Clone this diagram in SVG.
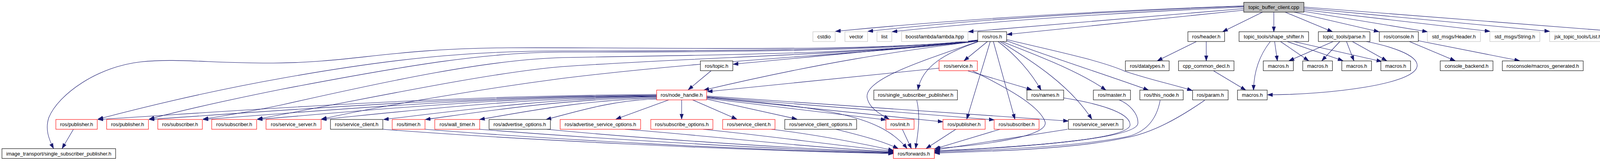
<svg xmlns="http://www.w3.org/2000/svg" width="4308" height="411" viewBox="0 0 4308 411">
<style>
.node rect{fill:#fff;stroke:#000;stroke-width:1.1}
.red rect{stroke:#ff0000}
.grey rect{stroke:#bfbfbf}
.root rect{fill:#bfbfbf}
.node text{font-family:"Liberation Sans",Arial,sans-serif;font-size:13px;text-anchor:middle;fill:#000}
#edges path{fill:none;stroke:#191970;stroke-width:1.1;marker-end:url(#arr)}
</style>
<defs>
<marker id="arr" markerUnits="userSpaceOnUse" markerWidth="14" markerHeight="10" refX="13" refY="5" orient="auto">
<path d="M0,0.5 L13,5 L0,9.5 z" fill="#191970" stroke="#191970" stroke-width="1"/>
</marker>
</defs>
<rect width="4308" height="411" fill="#fff"/>
<g id="edges">
<path d="M3184,15 Q2600,35 2139,80"/>
<path d="M3184,16 Q2600,38 2222,80"/>
<path d="M3184,18 Q2650,42 2284,81"/>
<path d="M3184,22 L2479,81"/>
<path d="M3184,26 L2578,88"/>
<path d="M3232,31 L3130,81"/>
<path d="M3261,31 L3261,81"/>
<path d="M3290,31 L3411,81"/>
<path d="M3313,31 L3530,81"/>
<path d="M3338,29 L3654,81"/>
<path d="M3338,25 L3814,80"/>
<path d="M3338,21 L3967,80"/>
<path d="M3338,18 L4137,80"/>
<path d="M2503,103 C2200,135 1700,120 1300,122 C1000,124 900,160 700,161 C550,162 450,148 360,158 C250,170 150,240 125,300 C115,330 125,355 137,379"/>
<path d="M2503,103 C2250,130 1800,130 1440,130 C1200,130 1000,150 720,200 C550,230 400,265 251,304"/>
<path d="M2503,104 C2250,132 1800,133 1440,133 C1250,133 1050,165 720,228 C600,252 480,278 382,304"/>
<path d="M2503,104 C2200,140 1800,140 1440,147 C1250,152 1000,205 720,268 C640,285 580,295 520,304"/>
<path d="M2503,105 C2200,140 1800,145 1440,170 C1250,185 900,260 659,304"/>
<path d="M2503,105 C2200,140 1850,150 1440,200 C1250,225 1000,265 823,304"/>
<path d="M2503,102 C2350,120 2150,138 1877,164"/>
<path d="M2503,105 C2300,130 2100,160 1802,230"/>
<path d="M2528,106 L2468,155"/>
<path d="M2503,107 C2420,135 2360,170 2350,229"/>
<path d="M2503,106 C2380,150 2210,200 2220,250 C2225,275 2250,290 2276,304"/>
<path d="M2535,106 L2475,304"/>
<path d="M2543,106 L2598,304"/>
<path d="M2555,106 C2600,140 2640,185 2665,230"/>
<path d="M2560,106 C2650,160 2740,220 2795,304"/>
<path d="M2565,106 C2650,140 2760,180 2831,230"/>
<path d="M2577,104 C2700,150 2830,190 2940,230"/>
<path d="M2577,101 C2700,130 2820,155 2880,182 C2950,205 3000,215 3052,231"/>
<path d="M2404,174 L1811,234"/>
<path d="M2478,181 L2641,229"/>
<path d="M2490,181 C2580,225 2660,270 2675,310 C2690,350 2500,372 2394,379"/>
<path d="M1820,181 L1762,229"/>
<path d="M1681,241 C1109,244 608,283 251,305"/>
<path d="M1681,243 C1161,246 707,283 382,305"/>
<path d="M1681,244 C1217,247 810,284 520,305"/>
<path d="M1681,245 C1272,248 915,284 659,305"/>
<path d="M1681,246 C1338,249 1038,284 823,305"/>
<path d="M1681,247 C1401,250 1157,285 982,305"/>
<path d="M1681,249 C1444,252 1237,285 1089,305"/>
<path d="M1681,251 C1500,254 1341,286 1228,305"/>
<path d="M1681,253 C1568,255 1469,287 1398,305"/>
<path d="M1712,255 L1577,304"/>
<path d="M1745,255 L1745,304"/>
<path d="M1773,255 L1886,304"/>
<path d="M1809,253 L2040,304"/>
<path d="M1809,251 L2268,306"/>
<path d="M1809,249 L2414,311"/>
<path d="M1809,247 L2545,306"/>
<path d="M1809,245 L2735,309"/>
<path d="M1809,248 C2100,275 2250,290 2322,379"/>
<path d="M980,330 C1300,355 1900,385 2287,392"/>
<path d="M1088,330 C1400,355 1900,383 2287,391"/>
<path d="M1227,330 C1500,352 1950,380 2287,390"/>
<path d="M1400,330 C1600,350 2000,378 2287,389"/>
<path d="M1600,330 C1800,345 2050,375 2287,388"/>
<path d="M1800,330 C1950,345 2150,372 2287,386"/>
<path d="M1975,330 C2100,345 2200,365 2287,384"/>
<path d="M2140,330 C2200,345 2260,360 2299,379"/>
<path d="M2347,256 C2357,300 2350,340 2344,379"/>
<path d="M2310,330 L2333,379"/>
<path d="M2447,330 L2371,379"/>
<path d="M2560,330 L2393,380"/>
<path d="M2733,330 L2393,383"/>
<path d="M2723,250 C2800,262 2892,285 2893,318 C2894,350 2700,372 2393,385"/>
<path d="M2865,255 C2890,265 2915,290 2913,315 C2910,345 2750,368 2393,387"/>
<path d="M2970,256 C2960,310 2930,340 2880,350 C2750,375 2550,382 2393,389"/>
<path d="M3084,256 C3020,300 2950,340 2880,352 C2750,380 2550,386 2393,391"/>
<path d="M188,330 L159,379"/>
<path d="M3063,106 L2963,155"/>
<path d="M3088,106 L3088,155"/>
<path d="M3107,181 L3189,230"/>
<path d="M3252,106 C3225,140 3210,180 3209,230"/>
<path d="M3263,106 L3270,155"/>
<path d="M3278,106 L3350,155"/>
<path d="M3295,106 L3438,155"/>
<path d="M3312,106 L3537,157"/>
<path d="M3413,106 L3300,155"/>
<path d="M3430,106 L3384,155"/>
<path d="M3447,106 L3466,155"/>
<path d="M3462,106 L3550,155"/>
<path d="M3498,106 C3560,118 3628,140 3628,167 C3628,215 3400,242 3245,242"/>
<path d="M3608,106 L3725,155"/>
<path d="M3631,104 L3890,155"/>
</g>
<g id="n_root" class="node root"><rect x="3184" y="6" width="154" height="25"/><text x="3261" y="23">topic_buffer_client.cpp</text></g>
<g id="n_cstdio" class="node grey"><rect x="2081" y="81" width="57" height="25"/><text x="2109.5" y="98">cstdio</text></g>
<g id="n_vector" class="node grey"><rect x="2163" y="81" width="58" height="25"/><text x="2192" y="98">vector</text></g>
<g id="n_list" class="node grey"><rect x="2245" y="81" width="38" height="25"/><text x="2264" y="98">list</text></g>
<g id="n_boost" class="node grey"><rect x="2308" y="81" width="170" height="25"/><text x="2393" y="98">boost/lambda/lambda.hpp</text></g>
<g id="n_ros_h" class="node"><rect x="2503" y="81" width="74" height="25"/><text x="2540" y="98">ros/ros.h</text></g>
<g id="n_header" class="node"><rect x="3041" y="81" width="94" height="25"/><text x="3088" y="98">ros/header.h</text></g>
<g id="n_shape_shifter" class="node"><rect x="3172" y="81" width="178" height="25"/><text x="3261" y="98">topic_tools/shape_shifter.h</text></g>
<g id="n_parse" class="node"><rect x="3375" y="81" width="132" height="25"/><text x="3441" y="98">topic_tools/parse.h</text></g>
<g id="n_console" class="node"><rect x="3531" y="81" width="100" height="25"/><text x="3581" y="98">ros/console.h</text></g>
<g id="n_std_header" class="node grey"><rect x="3654" y="81" width="136" height="25"/><text x="3722" y="98">std_msgs/Header.h</text></g>
<g id="n_std_string" class="node grey"><rect x="3814" y="81" width="128" height="25"/><text x="3878" y="98">std_msgs/String.h</text></g>
<g id="n_jsk_list" class="node grey"><rect x="3967" y="81" width="145" height="25"/><text x="4039.5" y="98">jsk_topic_tools/List.h</text></g>
<g id="n_jsk_update" class="node grey"><rect x="4137" y="81" width="166" height="25"/><text x="4220" y="98">jsk_topic_tools/Update.h</text></g>
<g id="n_topic" class="node"><rect x="1793" y="155.5" width="83" height="25"/><text x="1834.5" y="172.5">ros/topic.h</text></g>
<g id="n_service" class="node red"><rect x="2404" y="155.5" width="98" height="25"/><text x="2453" y="172.5">ros/service.h</text></g>
<g id="n_datatypes" class="node"><rect x="2881" y="155.5" width="112" height="25"/><text x="2937" y="172.5">ros/datatypes.h</text></g>
<g id="n_cpp_common_decl" class="node"><rect x="3017" y="155.5" width="142" height="25"/><text x="3088" y="172.5">cpp_common_decl.h</text></g>
<g id="n_macros1" class="node"><rect x="3234" y="155.5" width="77" height="25"/><text x="3272.5" y="172.5">macros.h</text></g>
<g id="n_macros2" class="node"><rect x="3335" y="155.5" width="76" height="25"/><text x="3373" y="172.5">macros.h</text></g>
<g id="n_macros3" class="node"><rect x="3435" y="155.5" width="76" height="25"/><text x="3473" y="172.5">macros.h</text></g>
<g id="n_macros4" class="node"><rect x="3535" y="155.5" width="76" height="25"/><text x="3573" y="172.5">macros.h</text></g>
<g id="n_console_backend" class="node"><rect x="3687" y="155.5" width="135" height="25"/><text x="3754.5" y="172.5">console_backend.h</text></g>
<g id="n_macros_generated" class="node"><rect x="3846" y="155.5" width="207" height="25"/><text x="3949.5" y="172.5">rosconsole/macros_generated.h</text></g>
<g id="n_node_handle" class="node red"><rect x="1681" y="230" width="128" height="25"/><text x="1745" y="247">ros/node_handle.h</text></g>
<g id="n_ssp" class="node"><rect x="2237" y="230" width="214" height="25"/><text x="2344" y="247">ros/single_subscriber_publisher.h</text></g>
<g id="n_names" class="node"><rect x="2629" y="230" width="94" height="25"/><text x="2676" y="247">ros/names.h</text></g>
<g id="n_master" class="node"><rect x="2799" y="230" width="95" height="25"/><text x="2846.5" y="247">ros/master.h</text></g>
<g id="n_this_node" class="node"><rect x="2918" y="230" width="111" height="25"/><text x="2973.5" y="247">ros/this_node.h</text></g>
<g id="n_param" class="node"><rect x="3053" y="230" width="91" height="25"/><text x="3098.5" y="247">ros/param.h</text></g>
<g id="n_macros5" class="node"><rect x="3168" y="230" width="76" height="25"/><text x="3206" y="247">macros.h</text></g>
<g id="n_pub1" class="node red"><rect x="143" y="305" width="106" height="25"/><text x="196" y="322">ros/publisher.h</text></g>
<g id="n_pub2" class="node red"><rect x="273" y="305" width="107" height="25"/><text x="326.5" y="322">ros/publisher.h</text></g>
<g id="n_sub1" class="node red"><rect x="404" y="305" width="114" height="25"/><text x="461" y="322">ros/subscriber.h</text></g>
<g id="n_sub2" class="node red"><rect x="542" y="305" width="115" height="25"/><text x="599.5" y="322">ros/subscriber.h</text></g>
<g id="n_ss1" class="node red"><rect x="681" y="305" width="141" height="25"/><text x="751.5" y="322">ros/service_server.h</text></g>
<g id="n_sc1" class="node"><rect x="846" y="305" width="134" height="25"/><text x="913" y="322">ros/service_client.h</text></g>
<g id="n_timer" class="node red"><rect x="1004" y="305" width="84" height="25"/><text x="1046" y="322">ros/timer.h</text></g>
<g id="n_wall_timer" class="node red"><rect x="1113" y="305" width="115" height="25"/><text x="1170.5" y="322">ros/wall_timer.h</text></g>
<g id="n_adv_opt" class="node"><rect x="1252" y="305" width="157" height="25"/><text x="1330.5" y="322">ros/advertise_options.h</text></g>
<g id="n_adv_srv_opt" class="node red"><rect x="1434" y="305" width="206" height="25"/><text x="1537" y="322">ros/advertise_service_options.h</text></g>
<g id="n_sub_opt" class="node red"><rect x="1666" y="305" width="159" height="25"/><text x="1745.5" y="322">ros/subscribe_options.h</text></g>
<g id="n_sc2" class="node red"><rect x="1850" y="305" width="134" height="25"/><text x="1917" y="322">ros/service_client.h</text></g>
<g id="n_sc_opt" class="node"><rect x="2009" y="305" width="184" height="25"/><text x="2101" y="322">ros/service_client_options.h</text></g>
<g id="n_init" class="node red"><rect x="2268" y="305" width="72" height="25"/><text x="2304" y="322">ros/init.h</text></g>
<g id="n_pub3" class="node red"><rect x="2414" y="305" width="108" height="25"/><text x="2468" y="322">ros/publisher.h</text></g>
<g id="n_sub3" class="node red"><rect x="2545" y="305" width="115" height="25"/><text x="2602.5" y="322">ros/subscriber.h</text></g>
<g id="n_ss2" class="node"><rect x="2735" y="305" width="140" height="25"/><text x="2805" y="322">ros/service_server.h</text></g>
<g id="n_image_transport" class="node"><rect x="5" y="379.5" width="291" height="25"/><text x="150.5" y="396.5">image_transport/single_subscriber_publisher.h</text></g>
<g id="n_forwards" class="node red"><rect x="2287" y="379.5" width="105" height="25"/><text x="2339.5" y="396.5">ros/forwards.h</text></g>
</svg>
